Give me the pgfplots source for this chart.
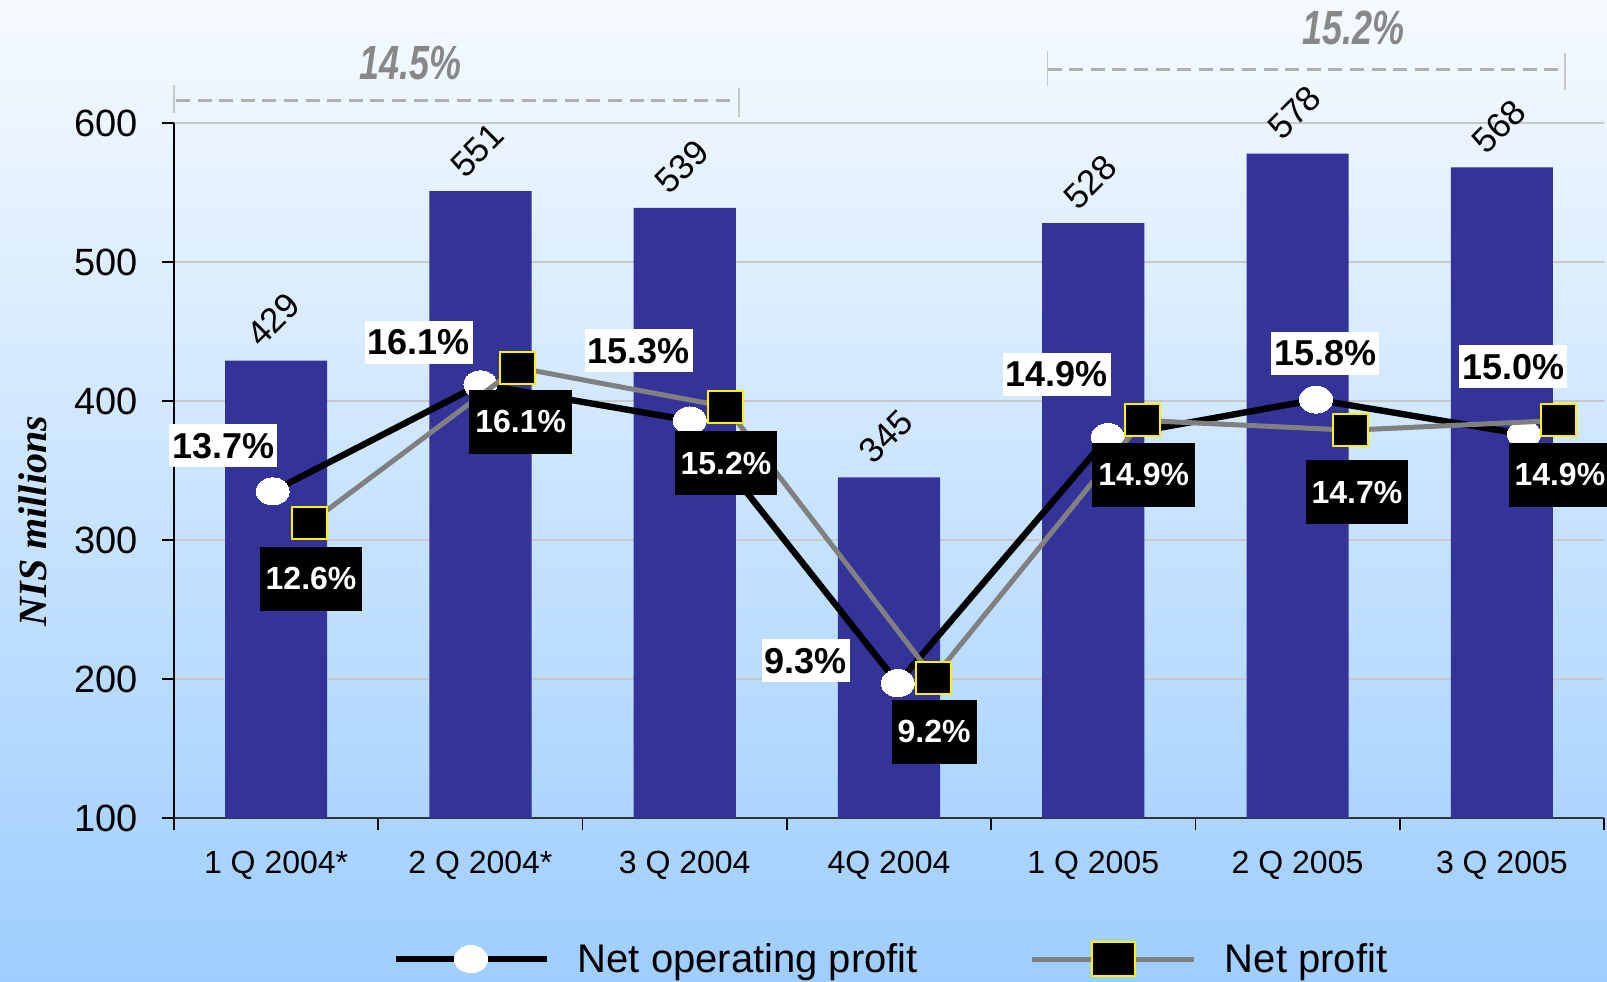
\documentclass[border=0pt]{standalone}
\usepackage{fontspec}
\setmainfont{Liberation Sans}
\newfontfamily\timesfam{Liberation Serif}
\usepackage{graphicx}
\usepackage{pgfplots}
\pgfplotsset{compat=1.18}

\definecolor{barblue}{RGB}{51,51,153}
\definecolor{bgtop}{RGB}{246,250,255}
\definecolor{bgbot}{RGB}{158,206,255}
\definecolor{gridgray}{RGB}{200,200,200}
\definecolor{netgray}{RGB}{128,128,128}
\definecolor{brackgray}{RGB}{176,176,176}
\definecolor{avggray}{RGB}{136,136,136}

% legend symbols: a long line with the marker in its middle
\pgfplotsset{
  opleg/.style={legend image code/.code={%
    \draw[mark repeat=2,mark phase=2,##1] plot coordinates {(0pt,0pt) (37.75pt,0pt) (75.5pt,0pt)};}},
  netleg/.style={legend image code/.code={%
    \draw[mark repeat=2,mark phase=2,##1,mark size=8.5pt,mark options={fill=black, draw=yellow, line width=1pt, xscale=1.25}] plot coordinates {(0pt,0pt) (40.5pt,0pt) (81pt,0pt)};}},
}

\begin{document}
\begin{tikzpicture}[
  oplab/.style={fill=white, text=black, font=\fontsize{18}{18}\selectfont\bfseries, inner xsep=1.5pt, inner ysep=0pt, minimum height=21.5pt},
  netlab/.style={fill=black, text=white, font=\fontsize{16}{16}\selectfont\bfseries, inner xsep=3pt, inner ysep=0pt, minimum height=32pt},
  vallab/.style={rotate=45, font=\fontsize{17.5}{17.5}\selectfont, inner sep=0pt},
  avglab/.style={text=avggray, font=\fontsize{24}{24}\selectfont\bfseries\itshape, inner sep=0pt},
  brackdash/.style={draw=brackgray, line width=1.5pt, dash pattern=on 7pt off 3.8pt},
  brackend/.style={draw=gridgray, line width=0.6pt},
]
\useasboundingbox (0,0) rectangle (803.5pt,490.5pt);
\clip (0,0) rectangle (803.5pt,490.5pt);
\shade[top color=bgtop, bottom color=bgbot] (0,0) rectangle (803.5pt,490.5pt);
\begin{axis}[
  at={(87pt,81.5pt)}, anchor=south west,
  scale only axis, width=715pt, height=347.5pt,
  xmin=-0.5, xmax=6.5, ymin=100, ymax=600,
  axis x line*=bottom, axis y line*=left,
  axis line style={-},
  x axis line style={draw=black!80, line width=1.2pt},
  y axis line style={draw=black, line width=0.8pt},
  tick align=outside, major tick length=6pt,
  tick style={black, line width=0.8pt},
  ytick={100,200,...,600},
  yticklabel style={font=\fontsize{19}{19}\selectfont, xshift=-8.5pt},
  xtick={-0.5,0.5,...,6.5}, xticklabels={},
  extra x ticks={0,1,...,6},
  extra x tick labels={1 Q 2004*, 2 Q 2004*, 3 Q 2004, 4Q 2004, 1 Q 2005, 2 Q 2005, 3 Q 2005},
  extra x tick style={major tick length=0pt, xticklabel style={font=\fontsize{16}{16}\selectfont, anchor=center, yshift=-23.5pt}},
  ymajorgrids, major grid style={draw=gridgray, line width=1.2pt},
  clip mode=individual,
  /pgf/number format/assume math mode=true,
  legend columns=2,
  legend cell align=left,
  legend style={
    at={(0.1524,-0.203)}, anchor=west, draw=none, fill=none, inner sep=0pt,
    font=\fontsize{20}{20}\selectfont,
    nodes={inner sep=0pt},
    /tikz/every odd column/.append style={column sep=14pt},
    /tikz/every even column/.append style={column sep=56pt},
  },
]
% revenue bars
\addplot[ybar, bar width=0.5, fill=barblue, draw=none, forget plot]
  coordinates {(0,429) (1,551) (2,539) (3,345) (4,528) (5,578) (6,568)};

% net operating profit
\addplot[black, line width=3.2pt, mark=*, mark size=6.75pt,
  mark options={fill=white, draw=white, line width=0pt, xscale=1.22}, opleg]
  coordinates {(-0.017,335) (1.0,412) (2.025,386) (3.043,197) (4.071,374) (5.09,401) (6.108,376)};
\addlegendentry{Net operating profit}

% net profit
\addplot[netgray, line width=2.5pt, mark=square*, mark size=8pt,
  mark options={fill=black, draw=yellow, line width=1pt, xscale=1.1}, netleg]
  coordinates {(0.163,312) (1.182,424) (2.200,396) (3.219,201) (4.242,386) (5.260,379) (6.279,386)};
\addlegendentry{Net profit}

% bar values
\node[vallab] at ([xshift=-1.5pt,yshift=20.5pt]axis cs:0,429) {429};
\node[vallab] at ([xshift=-1.5pt,yshift=20.5pt]axis cs:1,551) {551};
\node[vallab] at ([xshift=-1.5pt,yshift=20.5pt]axis cs:2,539) {539};
\node[vallab] at ([xshift=-1.5pt,yshift=20.5pt]axis cs:3,345) {345};
\node[vallab] at ([xshift=-1.5pt,yshift=20.5pt]axis cs:4,528) {528};
\node[vallab] at ([xshift=-1.5pt,yshift=20.5pt]axis cs:5,578) {578};
\node[vallab] at ([xshift=-1.5pt,yshift=20.5pt]axis cs:6,568) {568};

% operating margins
\node[oplab] at (axis cs:-0.258,367.8) {13.7\%};
\node[oplab] at (axis cs:0.698,442.2) {16.1\%};
\node[oplab] at (axis cs:1.774,436) {15.3\%};
\node[oplab] at (axis cs:2.592,213) {9.3\%};
\node[oplab] at (axis cs:3.821,419) {14.9\%};
\node[oplab] at (axis cs:5.135,434.5) {15.8\%};
\node[oplab] at (axis cs:6.056,424.5) {15.0\%};

% net margins
\node[netlab] at (axis cs:0.171,272) {12.6\%};
\node[netlab] at (axis cs:1.197,385.1) {16.1\%};
\node[netlab] at (axis cs:2.202,355.4) {15.2\%};
\node[netlab] at (axis cs:3.221,162) {9.2\%};
\node[netlab] at (axis cs:4.247,346.8) {14.9\%};
\node[netlab] at (axis cs:5.291,334.5) {14.7\%};
\node[netlab] at (axis cs:6.284,346.8) {14.9\%};

% period averages
\draw[brackdash] (axis cs:-0.49,616.5) -- (axis cs:2.266,616.5);
\draw[brackend] (axis cs:-0.5,627.3) -- (axis cs:-0.5,607.2);
\draw[brackend] (axis cs:2.266,625.2) -- (axis cs:2.266,604.3);
\node[avglab] at (axis cs:0.660,643) {\scalebox{0.75}[1]{14.5\%}};

\draw[brackdash] (axis cs:3.776,638.8) -- (axis cs:6.309,638.8);
\draw[brackend] (axis cs:3.776,651.8) -- (axis cs:3.776,626.6);
\draw[brackend] (axis cs:6.309,650.4) -- (axis cs:6.309,623.7);
\node[avglab] at (axis cs:5.276,668.5) {\scalebox{0.75}[1]{15.2\%}};

% axis title
\node[rotate=90, inner sep=0pt, font=\timesfam\fontsize{20}{20}\selectfont\bfseries\itshape] at (axis cs:-1.19,313.7) {NIS millions};
\end{axis}
\end{tikzpicture}
\end{document}
